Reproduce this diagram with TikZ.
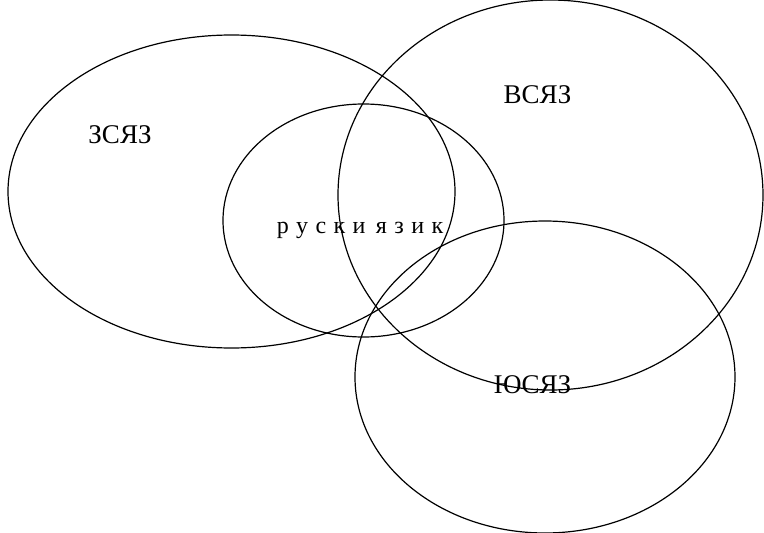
\documentclass[tikz,border=0pt]{standalone}
\usepackage{fontspec}
\setmainfont{Liberation Serif}
\usetikzlibrary{shapes.geometric}
\begin{document}
\begin{tikzpicture}[x=1pt,y=-1pt,
  region/.style={draw=black,line width=1.2pt,ellipse,inner sep=0pt},
  lbl/.style={font=\fontsize{27}{30}\selectfont,inner sep=0pt},
  slbl/.style={font=\fontsize{24}{27}\selectfont,inner sep=0pt}]
\useasboundingbox (0,0) rectangle (764,533);
\node[region,minimum width=447pt,minimum height=313pt] (zs) at (231.5,191.5) {};
\node[region,minimum width=281pt,minimum height=233pt] (ru) at (363.5,220.5) {};
\node[region,minimum width=425pt,minimum height=390pt] (vs) at (550.5,195) {};
\node[region,minimum width=380pt,minimum height=312pt] (ju) at (545,377) {};
\node[lbl,anchor=base] (tzs) at (120,143) {ЗСЯЗ};
\node[lbl,anchor=base] (tvs) at (537.5,103) {ВСЯЗ};
\node[slbl,anchor=base] (tru) at (360,233) {р\hspace{7.4pt}у\hspace{7.4pt}с\hspace{7.4pt}к\hspace{7.4pt}и\hspace{10.4pt}я\hspace{7.4pt}з\hspace{7.4pt}и\hspace{7.4pt}к};
\node[lbl,anchor=base] (tju) at (532.5,393) {ЮСЯЗ};
\end{tikzpicture}
\end{document}
